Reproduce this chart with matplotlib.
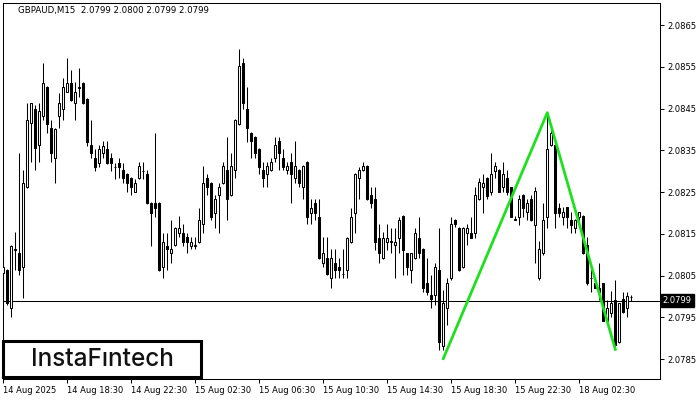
import matplotlib.pyplot as plt
from matplotlib.patches import Rectangle
import matplotlib.transforms as mtransforms
import numpy as np

# GBPAUD M15 candles (open, high, low, close)
opens = [2.08055, 2.08063, 2.07971, 2.08113, 2.08103, 2.08071, 2.08263, 2.08415, 2.08450, 2.08363,
         2.08432, 2.08501, 2.08403, 2.08331, 2.08432, 2.08450, 2.08490, 2.08511, 2.08463, 2.08500,
         2.08510, 2.08472, 2.08363, 2.08331, 2.08320, 2.08343, 2.08352, 2.08331, 2.08311, 2.08320,
         2.08303, 2.08292, 2.08283, 2.08251, 2.08283, 2.08301, 2.08292, 2.08223, 2.08223, 2.08223,
         2.08071, 2.08121, 2.08103, 2.08123, 2.08151, 2.08151, 2.08143, 2.08121, 2.08121, 2.08131,
         2.08173, 2.08283, 2.08271, 2.08200, 2.08242, 2.08271, 2.08303, 2.08242, 2.08303, 2.08413,
         2.08560, 2.08450, 2.08391, 2.08381, 2.08352, 2.08303, 2.08292, 2.08303, 2.08331, 2.08372,
         2.08331, 2.08303, 2.08322, 2.08283, 2.08303, 2.08261, 2.08322, 2.08200, 2.08223, 2.08191,
         2.08081, 2.08091, 2.08043, 2.08081, 2.08071, 2.08053, 2.08062, 2.08131, 2.08200, 2.08283,
         2.08303, 2.08312, 2.08243, 2.08233, 2.08141, 2.08091, 2.08131, 2.08131, 2.08123, 2.08141,
         2.08193, 2.08103, 2.08062, 2.08091, 2.08141, 2.08113, 2.08031, 2.08003, 2.08003, 2.08062,
         2.07880, 2.07971, 2.08043, 2.08183, 2.08163, 2.08071, 2.08151, 2.08151, 2.08151, 2.08233,
         2.08261, 2.08283, 2.08251, 2.08301, 2.08303, 2.08261, 2.08283, 2.08261, 2.08185, 2.08191,
         2.08243, 2.08203, 2.08233, 2.08171, 2.08043, 2.08103, 2.08191, 2.08363, 2.08363, 2.08211,
         2.08191, 2.08213, 2.08183, 2.08163, 2.08191, 2.08193, 2.08123, 2.08043, 2.08031, 2.08021,
         2.08031, 2.07942, 2.07961, 2.07991, 2.07891, 2.07993, 2.07971, 2.07999]
highs = [2.08091, 2.08065, 2.08123, 2.08153, 2.08343, 2.08303, 2.08463, 2.08463, 2.08458, 2.08463,
         2.08560, 2.08504, 2.08423, 2.08403, 2.08486, 2.08522, 2.08570, 2.08542, 2.08513, 2.08547,
         2.08513, 2.08474, 2.08423, 2.08352, 2.08363, 2.08372, 2.08372, 2.08343, 2.08320, 2.08331,
         2.08320, 2.08295, 2.08286, 2.08280, 2.08322, 2.08322, 2.08303, 2.08225, 2.08391, 2.08225,
         2.08152, 2.08151, 2.08183, 2.08165, 2.08193, 2.08173, 2.08151, 2.08143, 2.08143, 2.08211,
         2.08312, 2.08292, 2.08273, 2.08242, 2.08271, 2.08322, 2.08382, 2.08343, 2.08425, 2.08592,
         2.08570, 2.08501, 2.08393, 2.08384, 2.08355, 2.08322, 2.08322, 2.08331, 2.08381, 2.08381,
         2.08352, 2.08322, 2.08343, 2.08372, 2.08305, 2.08315, 2.08324, 2.08233, 2.08233, 2.08233,
         2.08143, 2.08143, 2.08113, 2.08113, 2.08091, 2.08113, 2.08143, 2.08211, 2.08296, 2.08311,
         2.08322, 2.08314, 2.08263, 2.08263, 2.08173, 2.08153, 2.08173, 2.08163, 2.08163, 2.08191,
         2.08195, 2.08105, 2.08105, 2.08163, 2.08191, 2.08115, 2.08091, 2.08051, 2.08080, 2.08163,
         2.08015, 2.08043, 2.08191, 2.08185, 2.08165, 2.08165, 2.08173, 2.08191, 2.08263, 2.08283,
         2.08293, 2.08285, 2.08343, 2.08322, 2.08305, 2.08322, 2.08303, 2.08263, 2.08193, 2.08243,
         2.08245, 2.08233, 2.08243, 2.08261, 2.08133, 2.08223, 2.08439, 2.08399, 2.08365, 2.08223,
         2.08213, 2.08215, 2.08203, 2.08185, 2.08203, 2.08195, 2.08142, 2.08071, 2.08033, 2.08081,
         2.08033, 2.07991, 2.08013, 2.08039, 2.07985, 2.08011, 2.08011, 2.08003]
lows = [2.07999, 2.07980, 2.07951, 2.08063, 2.08051, 2.07995, 2.08260, 2.08323, 2.08303, 2.08323,
        2.08423, 2.08391, 2.08323, 2.08271, 2.08403, 2.08423, 2.08490, 2.08468, 2.08423, 2.08478,
        2.08460, 2.08360, 2.08331, 2.08301, 2.08311, 2.08331, 2.08318, 2.08301, 2.08280, 2.08283,
        2.08271, 2.08251, 2.08242, 2.08249, 2.08281, 2.08280, 2.08221, 2.08121, 2.08191, 2.08060,
        2.08043, 2.08063, 2.08081, 2.08120, 2.08143, 2.08121, 2.08103, 2.08113, 2.08113, 2.08128,
        2.08151, 2.08242, 2.08183, 2.08163, 2.08151, 2.08269, 2.08183, 2.08240, 2.08283, 2.08410,
        2.08450, 2.08370, 2.08331, 2.08331, 2.08292, 2.08261, 2.08261, 2.08300, 2.08322, 2.08303,
        2.08303, 2.08292, 2.08223, 2.08271, 2.08261, 2.08233, 2.08173, 2.08173, 2.08183, 2.08089,
        2.08071, 2.08051, 2.08021, 2.08043, 2.08043, 2.08043, 2.08043, 2.08128, 2.08151, 2.08233,
        2.08300, 2.08230, 2.08211, 2.08111, 2.08081, 2.08089, 2.08111, 2.08103, 2.08043, 2.08103,
        2.08051, 2.08051, 2.08031, 2.08089, 2.08091, 2.08011, 2.08003, 2.07971, 2.07980, 2.07872,
        2.07872, 2.07932, 2.08040, 2.08165, 2.08060, 2.08068, 2.08123, 2.08139, 2.08141, 2.08230,
        2.08200, 2.08233, 2.08243, 2.08283, 2.08249, 2.08251, 2.08243, 2.08189, 2.08183, 2.08171,
        2.08191, 2.08182, 2.08180, 2.08081, 2.08040, 2.08100, 2.08163, 2.08360, 2.08163, 2.08191,
        2.08171, 2.08163, 2.08151, 2.08151, 2.08183, 2.08101, 2.08027, 2.08011, 2.08019, 2.07991,
        2.07940, 2.07933, 2.07951, 2.07874, 2.07889, 2.07960, 2.07951, 2.07990]
closes = [2.08071, 2.07983, 2.08121, 2.08110, 2.08063, 2.08271, 2.08423, 2.08463, 2.08355, 2.08443,
          2.08510, 2.08413, 2.08343, 2.08400, 2.08463, 2.08501, 2.08510, 2.08470, 2.08490, 2.08501,
          2.08463, 2.08370, 2.08343, 2.08311, 2.08352, 2.08360, 2.08320, 2.08320, 2.08310, 2.08311,
          2.08283, 2.08271, 2.08261, 2.08271, 2.08312, 2.08300, 2.08223, 2.08200, 2.08211, 2.08063,
          2.08131, 2.08113, 2.08113, 2.08163, 2.08163, 2.08131, 2.08131, 2.08131, 2.08122, 2.08183,
          2.08271, 2.08261, 2.08191, 2.08233, 2.08261, 2.08312, 2.08233, 2.08312, 2.08423, 2.08552,
          2.08463, 2.08403, 2.08371, 2.08343, 2.08311, 2.08283, 2.08312, 2.08322, 2.08363, 2.08343,
          2.08311, 2.08312, 2.08292, 2.08312, 2.08271, 2.08312, 2.08191, 2.08211, 2.08200, 2.08091,
          2.08103, 2.08053, 2.08091, 2.08062, 2.08062, 2.08054, 2.08141, 2.08191, 2.08293, 2.08303,
          2.08312, 2.08233, 2.08223, 2.08131, 2.08103, 2.08141, 2.08141, 2.08132, 2.08131, 2.08183,
          2.08111, 2.08071, 2.08103, 2.08151, 2.08103, 2.08021, 2.08011, 2.07993, 2.08071, 2.07891,
          2.07983, 2.08031, 2.08173, 2.08173, 2.08062, 2.08163, 2.08163, 2.08141, 2.08243, 2.08273,
          2.08271, 2.08241, 2.08293, 2.08312, 2.08251, 2.08293, 2.08251, 2.08191, 2.08184, 2.08233,
          2.08211, 2.08223, 2.08182, 2.08252, 2.08113, 2.08183, 2.08352, 2.08391, 2.08200, 2.08200,
          2.08203, 2.08191, 2.08171, 2.08183, 2.08201, 2.08103, 2.08031, 2.08045, 2.08021, 2.08011,
          2.07942, 2.07971, 2.07983, 2.07883, 2.07983, 2.07962, 2.08000, 2.07999]

time_labels = ['14 Aug 2025', '14 Aug 18:30', '14 Aug 22:30', '15 Aug 02:30', '15 Aug 06:30',
               '15 Aug 10:30', '15 Aug 14:30', '15 Aug 18:30', '15 Aug 22:30', '18 Aug 02:30']
price_ticks = [2.0785, 2.0795, 2.0805, 2.0815, 2.0825, 2.0835, 2.0845, 2.0855, 2.0865]
last_price = 2.0799
title = 'GBPAUD,M15  2.0799 2.0800 2.0799 2.0799'

# double top / bottom pattern drawn in green
pattern_bar = [110, 136, 153]
pattern_price = [2.07851, 2.08440, 2.07873]

o = np.array(opens)
h = np.array(highs)
l = np.array(lows)
c = np.array(closes)
x = np.arange(len(o))

fig = plt.figure(figsize=(7, 4), dpi=100)
ax = fig.add_axes([3 / 700, 21 / 400, 657 / 700, 376 / 400])
ax.set_xlim(-0.075, 164.175)
ax.set_ylim(2.078021, 2.087027)

ax.axhline(last_price, color='black', linewidth=0.75, zorder=1)
ax.vlines(x, l, h, color='black', linewidth=0.75, zorder=2)
up = c >= o
ax.bar(x, np.abs(c - o), bottom=np.minimum(o, c), width=0.5,
       color=np.where(up, 'white', 'black'), edgecolor='black', linewidth=0.75, zorder=3)
ax.plot(pattern_bar, pattern_price, color='#1fe01f', linewidth=2, zorder=4)

for s in ax.spines.values():
    s.set_linewidth(0.75)

ax.yaxis.tick_right()
ax.set_yticks(price_ticks)
ax.set_yticklabels(['%.4f' % p for p in price_ticks])
ax.tick_params(axis='y', length=3, width=0.75, labelsize=6, pad=2)

ax.set_xticks(np.arange(len(time_labels)) * 16)
ax.set_xticklabels(time_labels)
for t in ax.get_xticklabels():
    t.set_horizontalalignment('left')
ax.tick_params(axis='x', length=3, width=0.75, labelsize=6, pad=2)

# current price tag on the right axis
trans = mtransforms.blended_transform_factory(ax.transAxes, ax.transData)
ax.text(1.004, last_price, '%.4f' % last_price, transform=trans, color='white', fontsize=6,
        va='center', ha='left', zorder=6,
        bbox=dict(boxstyle='square,pad=0.25', fc='black', ec='black'))

fig.text(18 / 700, 1 - 10 / 400, title, fontsize=6.2, va='center', ha='left')

# watermark box
fig.add_artist(Rectangle((3 / 700, 1 - 377 / 400), 198 / 700, 36 / 400, transform=fig.transFigure,
                         facecolor='white', edgecolor='black', linewidth=2.2, zorder=5))
fig.text(102 / 700, 1 - 360 / 400, 'InstaF\u0131ntech', fontsize=17.5, family='Inter',
         weight='medium', color='#111111', va='center', ha='center', zorder=6)

fig.savefig('out.png', dpi=100)
